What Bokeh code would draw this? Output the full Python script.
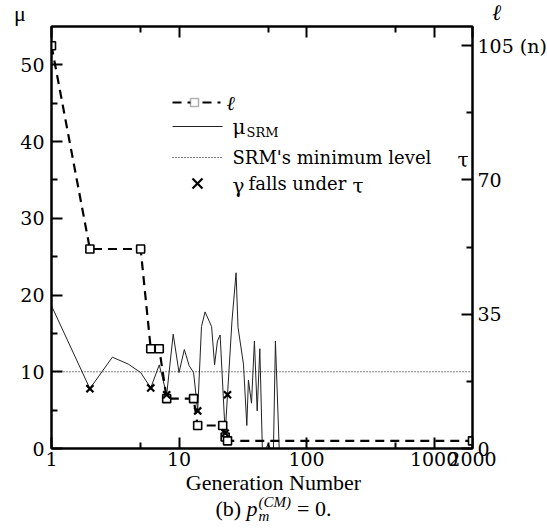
from bokeh.plotting import figure
from bokeh.layouts import column
from bokeh.models import (Range1d, LinearAxis, LogAxis, FixedTicker, Div,
                          NumeralTickFormatter, Label, Arrow, BoxAnnotation)
from bokeh.embed import file_html
from bokeh.resources import INLINE

# ---- data -------------------------------------------------------------
# chromosome length l per generation (right axis)
ell_gen = [1, 2, 5, 6, 7, 8, 13, 14, 22, 23, 24, 2000]
ell_val = [105, 52, 52, 26, 26, 13, 13, 6, 6, 3, 2, 2]

# mu_SRM per generation (left axis)
mu_gen = [1, 2, 3, 4, 5, 6, 7, 8, 9, 10, 11, 12, 13, 14, 15, 16, 18, 19,
          20, 21, 23, 24, 26, 28, 29, 32, 34, 35, 37, 39, 41, 43, 45, 48,
          50, 52, 55, 57, 61]
mu_val = [18.6, 7.8, 11.9, 11.0, 9.9, 7.9, 10.9, 7.0, 14.9, 9.9, 12.9,
          10.8, 9.9, 4.9, 15.9, 17.8, 15.9, 10.9, 14.0, 14.8, 2.0, 7.0,
          16.6, 22.9, 15.8, 11.0, 3.0, 8.9, 5.9, 14.0, 4.9, 13.0, 0.0,
          0.0, 0.6, 0.0, 0.0, 14.0, 0.0]

# SRM's minimum level tau
tau_gen = [1, 2000]
tau_val = [10, 10]

# generations where gamma falls under tau
gamma_gen = [2, 6, 8, 14, 23, 24]
gamma_val = [7.8, 7.9, 7.0, 4.9, 2.0, 7.0]

x_ticks = [1, 10, 100, 1000, 2000]
x_minor = [5, 50, 500]
mu_ticks = [0, 10, 20, 30, 40, 50]
mu_minor = [5, 15, 25, 35, 45]
ell_ticks = [0, 35, 70, 105]
ell_minor = [17.5, 52.5, 87.5]

FONT = "DejaVu Serif"

W = 547
HEAD_H, FOOT_H = 24, 51
TOP_B, BOT_B = 2, 29
FRAME_H = 422

p = figure(frame_width=421, frame_height=FRAME_H,
           x_axis_type="log", x_range=Range1d(1, 2000), y_range=Range1d(0, 55),
           x_axis_location=None, y_axis_location=None,
           min_border_left=51, min_border_right=75,
           min_border_top=TOP_B, min_border_bottom=BOT_B,
           output_backend="svg", toolbar_location=None, margin=0)
p.extra_y_ranges = {"ell": Range1d(0, 110)}
p.background_fill_color = "white"
p.border_fill_color = "white"
p.outline_line_color = "black"
p.outline_line_width = 2
for g in p.grid:
    g.visible = False


def style(ax, size="19px"):
    ax.axis_line_width = 2
    ax.axis_line_color = "black"
    ax.major_tick_in = 11
    ax.major_tick_out = 0
    ax.minor_tick_in = 6
    ax.minor_tick_out = 0
    ax.major_tick_line_width = 2
    ax.minor_tick_line_width = 2
    ax.major_tick_line_color = "black"
    ax.minor_tick_line_color = "black"
    ax.major_label_text_font = FONT
    ax.major_label_text_font_size = size
    ax.major_label_text_color = "black"


bottom = LogAxis(ticker=FixedTicker(ticks=x_ticks, minor_ticks=x_minor),
                 formatter=NumeralTickFormatter(format="0"))
style(bottom)
bottom.major_label_standoff = 3
p.add_layout(bottom, "below")

# top edge carries ticks only
top = LogAxis(ticker=FixedTicker(ticks=x_ticks, minor_ticks=x_minor),
              major_label_overrides={t: "" for t in x_ticks})
style(top, "0px")
top.major_label_standoff = 0
p.add_layout(top, "above")

left = LinearAxis(ticker=FixedTicker(ticks=mu_ticks, minor_ticks=mu_minor))
style(left)
left.major_label_standoff = 7
p.add_layout(left, "left")

right = LinearAxis(y_range_name="ell",
                   ticker=FixedTicker(ticks=ell_ticks, minor_ticks=ell_minor),
                   major_label_overrides={105: "105 (n)"})
style(right)
right.major_label_standoff = 5
p.add_layout(right, "right")

# ---- series -----------------------------------------------------------
p.line(tau_gen, tau_val, line_color="black", line_width=1, line_dash="1 2")
p.line(mu_gen, mu_val, line_color="#222222", line_width=1)
p.line(ell_gen, ell_val, y_range_name="ell", line_color="black",
       line_width=2.2, line_dash="9 6")
p.scatter(ell_gen, ell_val, y_range_name="ell", marker="square", size=8,
          fill_color="white", line_color="black", line_width=1.6)
p.scatter(gamma_gen, gamma_val, marker="x", size=10, line_color="black",
          line_width=2.2)

# ---- legend, placed in frame-relative pixels --------------------------
FL = 51                        # frame left on the page
FB = HEAD_H + TOP_B + FRAME_H  # frame bottom on the page


def txt(text, x, y, size="18px", style="normal"):
    p.add_layout(Label(x=x - FL, y=FB - y, x_units="screen",
                       y_units="screen", text=text, text_font=FONT,
                       text_font_size=size, text_font_style=style,
                       text_baseline="middle", text_align="left",
                       text_color="black"))


def seg(x0, y0, x1, y1, dash="solid", width=1.0, color="black"):
    p.add_layout(Arrow(end=None, start=None,
                       x_start=x0 - FL, x_end=x1 - FL,
                       y_start=FB - y0, y_end=FB - y1,
                       start_units="screen", end_units="screen",
                       line_color=color, line_width=width, line_dash=dash))


seg(172, 102, 220, 102, dash="9 6", width=2.2)
p.add_layout(BoxAnnotation(left=190 - FL, right=198 - FL,
                           bottom=FB - 106, top=FB - 98,
                           left_units="screen", right_units="screen",
                           bottom_units="screen", top_units="screen",
                           fill_color="white", fill_alpha=1.0,
                           line_color="black", line_width=1.6))
txt("\u2113", 226, 102, size="20px", style="italic")

seg(172, 126, 222, 126, color="#222222")
txt("\u03bc", 232, 126, size="20px")
txt("SRM", 246, 132, size="13px")

seg(172, 157, 222, 157, dash="1 2")
txt("SRM's minimum level", 232, 157)
txt("\u03c4", 457, 159, size="20px")

seg(192, 178, 202, 188, width=2.2)
seg(192, 188, 202, 178, width=2.2)
txt("\u03b3", 232, 185, size="20px")
txt("falls under", 248, 183)
txt("\u03c4", 352, 185, size="20px")

# ---- axis symbols above the frame and the caption below it ------------
SERIF = "font-family:'Liberation Serif',serif;color:#000;"
OVER = {"overflow": "visible", "z-index": "5"}
head = Div(width=W, height=HEAD_H, margin=0, styles=OVER, text=(
    f'<div style="position:relative;width:{W}px;height:{HEAD_H}px;{SERIF}">'
    '<span style="position:absolute;left:14px;top:2px;font-size:22px;'
    'line-height:24px">\u03bc</span>'
    '<span style="position:absolute;left:492px;top:1px;font-size:22px;'
    'line-height:24px;font-style:italic">\u2113</span>'
    '</div>'))

foot = Div(width=W, height=FOOT_H, margin=0, styles=OVER, text=(
    f'<div style="position:relative;width:{W}px;height:{FOOT_H}px;{SERIF}">'
    f'<div style="position:absolute;left:0;top:-5px;width:{W}px;'
    'text-align:center;font-size:22px;line-height:22px">Generation Number</div>'
    f'<div style="position:absolute;left:0;top:21px;width:{W}px;'
    'text-align:center;font-size:22px;line-height:22px">(b) <i>p</i>'
    '<span style="display:inline-block;position:relative;width:34px;'
    'height:22px;vertical-align:top">'
    '<i style="position:absolute;left:1px;top:-3px;font-size:15px;'
    'line-height:15px">(CM)</i>'
    '<i style="position:absolute;left:1px;top:11px;font-size:15px;'
    'line-height:15px">m</i></span> = 0.</div>'
    '</div>'))

layout = column(head, p, foot, spacing=0, margin=0)
open("out.html", "w").write(file_html(layout, INLINE))
